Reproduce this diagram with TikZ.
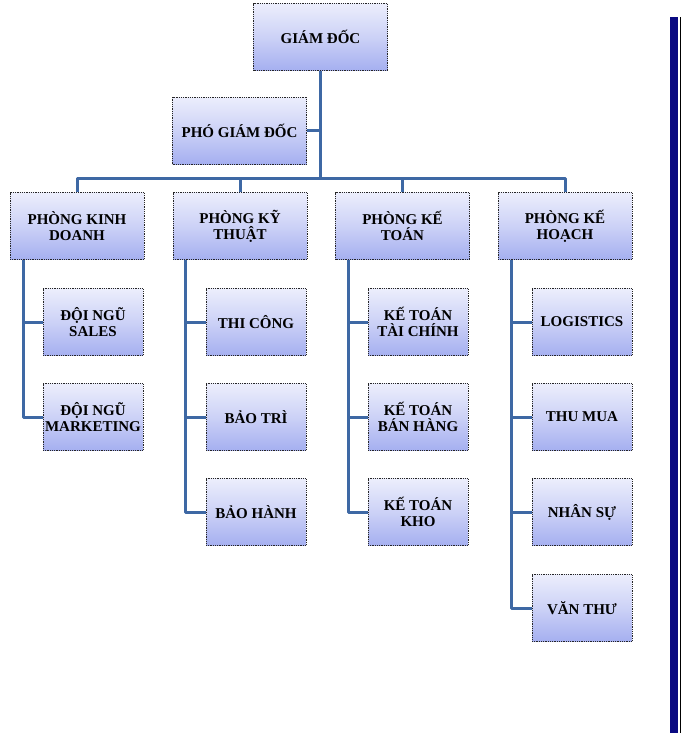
\documentclass[tikz,border=0pt]{standalone}
\usepackage{fontspec}
\setmainfont{Liberation Serif}
\definecolor{conncol}{RGB}{62,104,164}
\definecolor{boxtop}{RGB}{236,238,252}
\definecolor{boxbot}{RGB}{165,175,240}
\definecolor{barnavy}{RGB}{10,10,130}
\tikzset{
  orgbox/.style={draw=black!85, densely dotted, line width=0.8pt,
    top color=boxtop, bottom color=boxbot, middle color=boxtop!55!boxbot,
    align=center, inner sep=2pt,
    font=\fontsize{15}{16}\selectfont\bfseries},
  bigbox/.style={orgbox, minimum width=134pt, minimum height=67pt},
  subbox/.style={orgbox, minimum width=100pt, minimum height=67pt},
  conn/.style={draw=conncol, line width=3pt, line join=round}
}
\begin{document}
\begin{tikzpicture}[x=1pt,y=-1pt]
\useasboundingbox (0,0) rectangle (682,750);
% top level
\node[bigbox] (gd) at (320.5,37) {GIÁM ĐỐC};
\node[bigbox] (pgd) at (239.5,130.5) {PHÓ GIÁM ĐỐC};
% departments
\node[bigbox] (kd) at (77,226) {PHÒNG KINH\\DOANH};
\node[bigbox] (kt) at (240,226) {PHÒNG KỸ\\THUẬT};
\node[bigbox] (ktoan) at (402.5,226) {PHÒNG KẾ\\TOÁN};
\node[bigbox] (kh) at (565,226) {PHÒNG KẾ\\HOẠCH};
% children col 1
\node[subbox] (sales) at (93,322) {ĐỘI NGŨ\\SALES};
\node[subbox] (mkt) at (93,417) {ĐỘI NGŨ\\MARKETING};
% col 2
\node[subbox] (tc) at (256,322) {THI CÔNG};
\node[subbox] (bt) at (256,417) {BẢO TRÌ};
\node[subbox] (bh) at (256,512) {BẢO HÀNH};
% col 3
\node[subbox] (kttc) at (418,322) {KẾ TOÁN\\TÀI CHÍNH};
\node[subbox] (ktbh) at (418,417) {KẾ TOÁN\\BÁN HÀNG};
\node[subbox] (ktk) at (418,512) {KẾ TOÁN\\KHO};
% col 4
\node[subbox] (lg) at (582,322) {LOGISTICS};
\node[subbox] (tm) at (582,417) {THU MUA};
\node[subbox] (ns) at (582,512) {NHÂN SỰ};
\node[subbox] (vt) at (582,608) {VĂN THƯ};
% coordinates
\coordinate (hub) at (320.5,178);
\coordinate (c1) at (23,260);
\coordinate (c2) at (185,260);
\coordinate (c3) at (348,260);
\coordinate (c4) at (511,260);
% connectors
\draw[conn] (gd.south) -- (hub);
\draw[conn] (pgd.east) -- (pgd.east -| hub);
\draw[conn] (kd.north) |- (hub) -| (kh.north);
\draw[conn] (kt.north) -- (kt.north |- hub);
\draw[conn] (ktoan.north) -- (ktoan.north |- hub);
\draw[conn] (c1) |- (mkt.west);
\draw[conn] (c1 |- sales.west) -- (sales.west);
\draw[conn] (c2) |- (bh.west);
\draw[conn] (c2 |- tc.west) -- (tc.west);
\draw[conn] (c2 |- bt.west) -- (bt.west);
\draw[conn] (c3) |- (ktk.west);
\draw[conn] (c3 |- kttc.west) -- (kttc.west);
\draw[conn] (c3 |- ktbh.west) -- (ktbh.west);
\draw[conn] (c4) |- (vt.west);
\draw[conn] (c4 |- lg.west) -- (lg.west);
\draw[conn] (c4 |- tm.west) -- (tm.west);
\draw[conn] (c4 |- ns.west) -- (ns.west);
% right bar
\fill[barnavy] (670,17) rectangle (678,733);
\fill[black] (679.5,17) rectangle (681,733);
\end{tikzpicture}
\end{document}
